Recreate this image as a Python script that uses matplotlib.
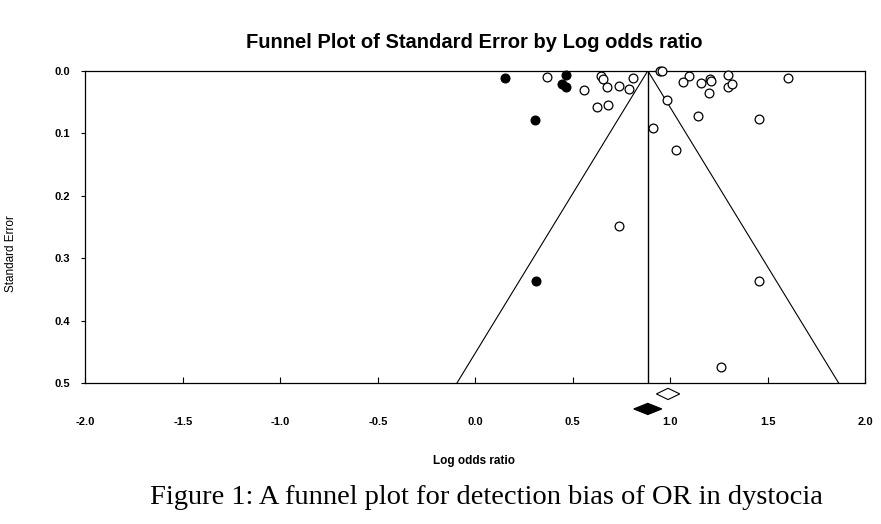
import numpy as np
import matplotlib.pyplot as plt
from matplotlib.patches import Polygon

# Study estimates: log odds ratio and its standard error
observed_lor = [0.369, 0.559, 0.645, 0.657, 0.675, 0.735, 0.786, 0.811, 0.624, 0.683,
                0.945, 0.959, 1.094, 1.063, 1.159, 1.206, 1.211, 1.201, 1.297, 1.297,
                1.319, 1.605, 0.983, 1.145, 1.456, 0.914, 1.031, 0.737, 1.453, 1.262]
observed_se = [0.0096, 0.0309, 0.0085, 0.0128, 0.0256, 0.0245, 0.0288, 0.0112, 0.0576, 0.0555,
               0.0005, 0.0005, 0.0085, 0.0181, 0.0192, 0.0136, 0.0168, 0.0352, 0.0075, 0.0256,
               0.0219, 0.0117, 0.0475, 0.0725, 0.0779, 0.0923, 0.1269, 0.248, 0.337, 0.4736]

# Imputed studies (trim and fill)
imputed_lor = [0.152, 0.465, 0.443, 0.465, 0.306, 0.309]
imputed_se = [0.0123, 0.0069, 0.0219, 0.0261, 0.0789, 0.337]

pooled_observed = 0.989   # open diamond
pooled_adjusted = 0.885   # filled diamond, funnel centre
diamond_halfwidth = [0.06, 0.072]

x_ticks = [-2.0, -1.5, -1.0, -0.5, 0.0, 0.5, 1.0, 1.5, 2.0]
y_ticks = [0.0, 0.1, 0.2, 0.3, 0.4, 0.5]

sans = ['Liberation Sans', 'DejaVu Sans']

fig = plt.figure(figsize=(8.81, 5.24), dpi=100)
ax = fig.add_axes([0.097, 0.2685, 0.885, 0.5965])

# funnel: pooled estimate +/- 1.96 * SE
se_line = np.array([0.0, 0.5])
ax.plot(pooled_adjusted - 1.96 * se_line, se_line, 'k', lw=0.8)
ax.plot(pooled_adjusted + 1.96 * se_line, se_line, 'k', lw=0.8)
ax.plot([pooled_adjusted, pooled_adjusted], [0.0, 0.5], 'k', lw=1.0)

ax.scatter(observed_lor, observed_se, s=40, facecolors='white', edgecolors='black',
           linewidths=0.9, zorder=3, clip_on=False)
ax.scatter(imputed_lor, imputed_se, s=40, facecolors='black', edgecolors='black',
           linewidths=0.9, zorder=3, clip_on=False)

# diamonds below the axis
for centre, hw, yc, fc in [(pooled_observed, diamond_halfwidth[0], 0.517, 'white'),
                           (pooled_adjusted, diamond_halfwidth[1], 0.541, 'black')]:
    dh = 0.009
    pts = [(centre - hw, yc), (centre, yc - dh), (centre + hw, yc), (centre, yc + dh)]
    ax.add_patch(Polygon(pts, closed=True, facecolor=fc, edgecolor='black',
                         lw=0.8, clip_on=False))

ax.set_xlim(-2.0, 2.0)
ax.set_ylim(0.5, 0.0)
ax.set_xticks(x_ticks)
ax.set_yticks(y_ticks)
ax.set_xticklabels([f'{v:.1f}' for v in x_ticks], family=sans, fontsize=8, fontweight='bold')
ax.set_yticklabels([f'{v:.1f}' for v in y_ticks], family=sans, fontsize=8, fontweight='bold')
ax.tick_params(axis='x', direction='in', length=4, width=0.8, pad=24)
ax.tick_params(axis='y', direction='out', length=3, width=0.8, pad=8)
for sp in ax.spines.values():
    sp.set_linewidth(0.9)

fig.text(0.538, 1 - 43 / 524, 'Funnel Plot of Standard Error by Log odds ratio', family=sans,
         fontsize=14.5, fontweight='bold', ha='center', va='center')
ax.set_xlabel('Log odds ratio', family=sans, fontsize=8.5, fontweight='bold')
ax.xaxis.set_label_coords((474 - 85.5) / 779.5, -(455 - 383.3) / 312.6)
ax.set_ylabel('Standard Error', family=sans, fontsize=8.5)
ax.yaxis.set_label_coords(-0.0879, 1 - (254 - 70.7) / 312.6)

fig.text(486 / 881, 1 - 497 / 524, 'Figure 1: A funnel plot for detection bias of OR in dystocia',
         family=['Liberation Serif', 'DejaVu Serif'], fontsize=20.5, ha='center', va='center')

fig.savefig('out.png', dpi=100)
